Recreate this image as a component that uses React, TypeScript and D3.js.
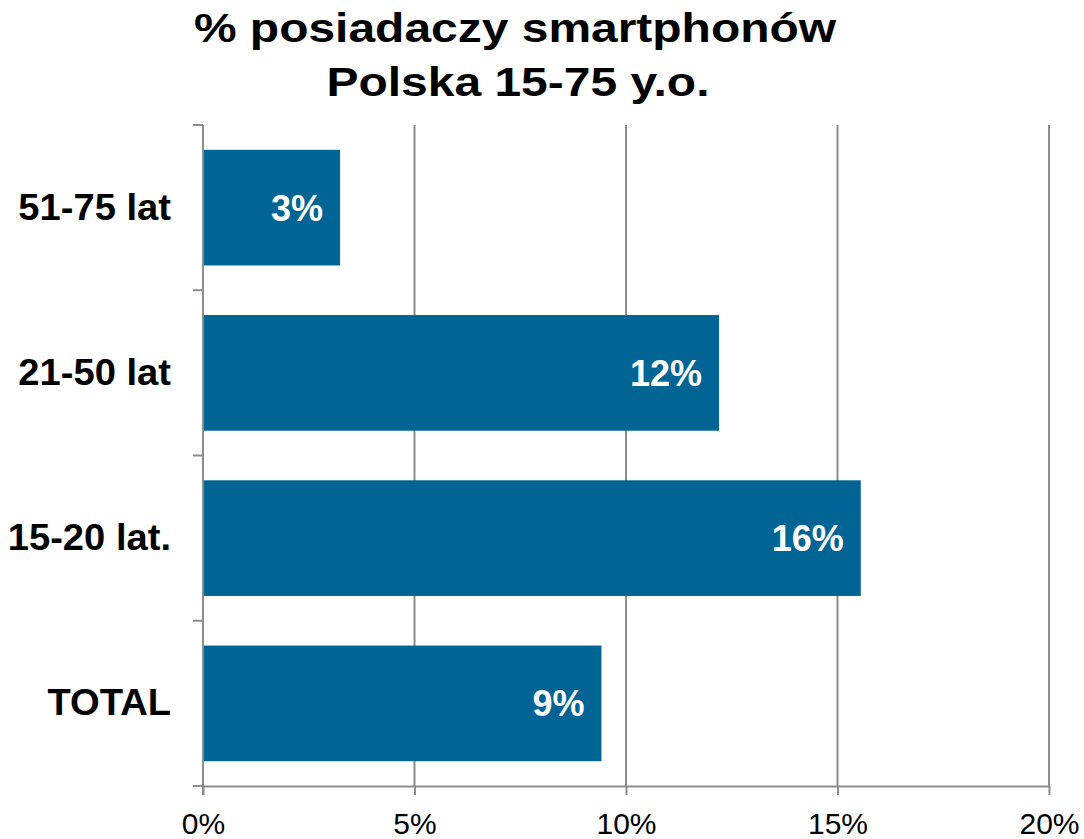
import React, { useRef, useEffect } from "react";
import * as d3 from "d3";

const categories = ["51-75 lat", "21-50 lat", "15-20 lat.", "TOTAL"];
const values = [3.24, 12.2, 15.55, 9.42];
const valueLabels = ["3%", "12%", "16%", "9%"];
const xTicks = [0, 5, 10, 15, 20];
const titleLines = ["% posiadaczy smartphonów", "Polska 15-75 y.o."];

const App = () => {
  const svgRef = useRef<SVGSVGElement>(null);

  useEffect(() => {
    document.body.style.margin = "0";
    const svg = d3.select(svgRef.current);
    svg.selectAll("*").remove();
    const font = "'Liberation Sans', Arial, sans-serif";
    const left = 203;
    const right = 1049;
    const top = 125;
    const bottom = 786;

    const x = d3.scaleLinear().domain([0, 20]).range([left, right]);
    const y = d3
      .scaleBand()
      .domain(categories)
      .range([top, bottom])
      .paddingInner(0.3)
      .paddingOuter(0.15);

    // title (the original is stretched horizontally)
    svg
      .append("g")
      .selectAll("text")
      .data(titleLines)
      .join("text")
      .attr("transform", (d, i) => `translate(${515 + i * 3},${42 + i * 54}) scale(1.17,1)`)
      .attr("text-anchor", "middle")
      .attr("font-family", font)
      .attr("font-weight", "bold")
      .attr("font-size", 41)
      .attr("fill", "#000")
      .text((d) => d);

    // gridlines
    svg
      .append("g")
      .selectAll("line")
      .data(xTicks.slice(1))
      .join("line")
      .attr("x1", (d) => x(d))
      .attr("x2", (d) => x(d))
      .attr("y1", top)
      .attr("y2", bottom)
      .attr("stroke", "#8c8c8c")
      .attr("stroke-width", 2);

    // bars
    svg
      .append("g")
      .selectAll("rect")
      .data(categories)
      .join("rect")
      .attr("x", x(0))
      .attr("y", (d) => y(d))
      .attr("width", (d, i) => x(values[i]) - x(0))
      .attr("height", y.bandwidth())
      .attr("fill", "#006494");

    // value labels
    svg
      .append("g")
      .selectAll("text")
      .data(categories)
      .join("text")
      .attr("x", (d, i) => x(values[i]) - 17)
      .attr("y", (d) => y(d)! + y.bandwidth() / 2 + 13)
      .attr("text-anchor", "end")
      .attr("font-family", font)
      .attr("font-weight", "bold")
      .attr("font-size", 36)
      .attr("fill", "#fff")
      .text((d, i) => valueLabels[i]);

    // x axis
    const xAxis = svg
      .append("g")
      .attr("transform", `translate(0,${bottom})`)
      .call(d3.axisBottom(x).tickValues(xTicks).tickFormat((d) => `${d}%`).tickSize(9).tickSizeOuter(0));
    xAxis.select(".domain").attr("stroke", "#8c8c8c").attr("stroke-width", 2);
    xAxis.selectAll(".tick line").attr("stroke", "#8c8c8c").attr("stroke-width", 2);
    xAxis
      .selectAll(".tick text")
      .attr("font-family", font)
      .attr("font-size", 30)
      .attr("fill", "#000")
      .attr("dy", "1.2em");

    // y axis line and band ticks
    const yAxis = svg.append("g");
    yAxis
      .append("line")
      .attr("x1", left)
      .attr("x2", left)
      .attr("y1", top)
      .attr("y2", bottom + 9)
      .attr("stroke", "#8c8c8c")
      .attr("stroke-width", 2);
    const bounds = categories.map((d) => y(d)! - (y.step() * y.paddingInner()) / 2);
    bounds[0] = top;
    bounds.push(bottom);
    yAxis
      .selectAll("line.tk")
      .data(bounds)
      .join("line")
      .attr("class", "tk")
      .attr("x1", left - 10)
      .attr("x2", left)
      .attr("y1", (d) => d)
      .attr("y2", (d) => d)
      .attr("stroke", "#8c8c8c")
      .attr("stroke-width", 2);

    // category labels
    yAxis
      .selectAll("text")
      .data(categories)
      .join("text")
      .attr("transform", (d) => `translate(171,${y(d)! + y.bandwidth() / 2 + 12}) scale(1.06,1)`)
      .attr("text-anchor", "end")
      .attr("font-family", font)
      .attr("font-weight", "bold")
      .attr("font-size", 36)
      .attr("fill", "#000")
      .text((d) => d);
  }, []);

  return <svg ref={svgRef} width={1084} height={839} style={{ display: "block", background: "#fff" }}></svg>;
};

export default App;
